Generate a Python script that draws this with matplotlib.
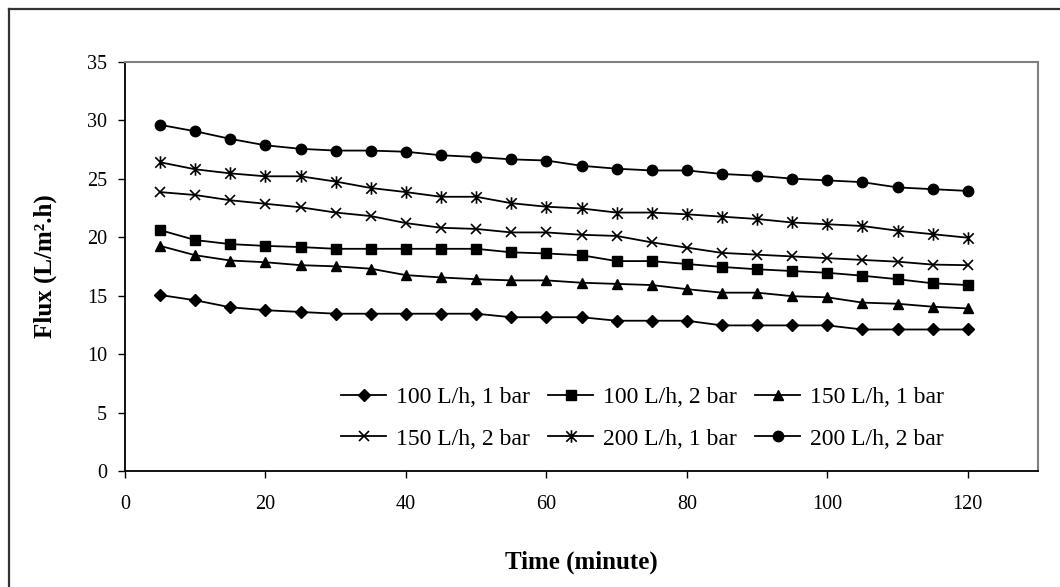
import matplotlib
matplotlib.use("Agg")
import matplotlib.pyplot as plt
from matplotlib.path import Path
from matplotlib.lines import Line2D

plt.rcParams['font.family'] = ['Liberation Serif', 'DejaVu Serif']

time_min = [5, 10, 15, 20, 25, 30, 35, 40, 45, 50, 55, 60,
            65, 70, 75, 80, 85, 90, 95, 100, 105, 110, 115, 120]

flux_100_1 = [15.05, 14.6, 14.0, 13.75, 13.6, 13.45, 13.45, 13.45, 13.45, 13.45, 13.15, 13.15,
              13.15, 12.85, 12.85, 12.85, 12.45, 12.45, 12.45, 12.45, 12.1, 12.1, 12.1, 12.1]
flux_100_2 = [20.6, 19.75, 19.4, 19.25, 19.15, 19.0, 19.0, 19.0, 19.0, 19.0, 18.7, 18.6,
              18.45, 17.95, 17.95, 17.7, 17.45, 17.25, 17.1, 16.95, 16.7, 16.4, 16.05, 15.9]
flux_150_1 = [19.25, 18.45, 18.0, 17.85, 17.6, 17.5, 17.3, 16.75, 16.55, 16.4, 16.3, 16.3,
              16.1, 16.0, 15.9, 15.55, 15.25, 15.25, 14.95, 14.85, 14.4, 14.3, 14.05, 13.9]
flux_150_2 = [23.85, 23.6, 23.15, 22.85, 22.55, 22.1, 21.8, 21.2, 20.8, 20.7, 20.4, 20.4,
              20.2, 20.1, 19.55, 19.1, 18.65, 18.5, 18.35, 18.2, 18.05, 17.9, 17.65, 17.6]
flux_200_1 = [26.4, 25.8, 25.45, 25.2, 25.2, 24.75, 24.2, 23.85, 23.45, 23.45, 22.9, 22.6,
              22.45, 22.1, 22.1, 21.95, 21.75, 21.55, 21.25, 21.1, 20.95, 20.55, 20.25, 19.95]
flux_200_2 = [29.6, 29.05, 28.4, 27.85, 27.55, 27.4, 27.4, 27.3, 27.0, 26.85, 26.65, 26.55,
              26.1, 25.85, 25.7, 25.7, 25.4, 25.25, 25.0, 24.85, 24.7, 24.25, 24.1, 23.95]

series_labels = ["100 L/h, 1 bar", "100 L/h, 2 bar", "150 L/h, 1 bar",
                 "150 L/h, 2 bar", "200 L/h, 1 bar", "200 L/h, 2 bar"]
series_values = [flux_100_1, flux_100_2, flux_150_1, flux_150_2, flux_200_1, flux_200_2]

x_ticks = [0, 20, 40, 60, 80, 100, 120]
y_ticks = [0, 5, 10, 15, 20, 25, 30, 35]

# asterisk marker: X plus vertical bar
star_path = Path([(-0.5, -0.5), (0.5, 0.5), (-0.5, 0.5), (0.5, -0.5), (0, -0.6), (0, 0.6)],
                 [Path.MOVETO, Path.LINETO, Path.MOVETO, Path.LINETO, Path.MOVETO, Path.LINETO])

styles = [
    dict(marker='D', markersize=6.0),
    dict(marker='s', markersize=6.5),
    dict(marker='^', markersize=7.5),
    dict(marker='x', markersize=7.5, markeredgewidth=1.2),
    dict(marker=star_path, markersize=9, markeredgewidth=1.2),
    dict(marker='o', markersize=7.5),
]

W, H = 1060, 587
fig = plt.figure(figsize=(W / 100, H / 100), dpi=100)
ax = fig.add_axes([125 / W, 1 - 471 / H, (1038 - 125) / W, (471 - 61.7) / H])

handles = []
for vals, lab, st in zip(series_values, series_labels, styles):
    h, = ax.plot(time_min, vals, color='black', linewidth=1.3, label=lab,
                 markerfacecolor='black', markeredgecolor='black', **st)
    handles.append(h)

ax.set_xlim(0, 130)
ax.set_ylim(0, 35)
ax.set_xticks(x_ticks)
ax.set_yticks(y_ticks)
ax.tick_params(axis='both', direction='out', length=5, width=1, labelsize=14.5, color='black')
ax.tick_params(axis='x', pad=12)
ax.tick_params(axis='y', pad=8)

for s in ['left', 'bottom']:
    ax.spines[s].set_color('black')
    ax.spines[s].set_linewidth(1.3)
for s in ['top', 'right']:
    ax.spines[s].set_color('#808080')
    ax.spines[s].set_linewidth(1.5)

ax.set_xlabel("Time (minute)", fontsize=18, fontweight='bold')
ax.xaxis.set_label_coords(0.5, (471 - 562) / (471 - 61.7))
ax.xaxis.label.set_va('center')
ax.set_ylabel("Flux (L/m\u00b2.h)", fontsize=18, fontweight='bold')
ax.yaxis.set_label_coords((45 - 125) / (1038 - 125), 0.5)
ax.yaxis.label.set_va('center')

order = [0, 3, 1, 4, 2, 5]
leg = fig.legend([handles[i] for i in order], [series_labels[i] for i in order],
                 ncol=3, loc='center', bbox_to_anchor=(642.5 / W, 1 - 418 / H),
                 frameon=False, fontsize=17, handlelength=1.9, handletextpad=0.4,
                 columnspacing=0.8, labelspacing=0.85, borderpad=0)

# outer chart frame
fig.add_artist(Line2D([9 / W, 9 / W], [0, 1 - 9 / H], transform=fig.transFigure,
                      color='#333333', linewidth=1.6))
fig.add_artist(Line2D([9 / W, 1], [1 - 9 / H, 1 - 9 / H], transform=fig.transFigure,
                      color='#333333', linewidth=1.6))

fig.savefig("out.png", dpi=100)
